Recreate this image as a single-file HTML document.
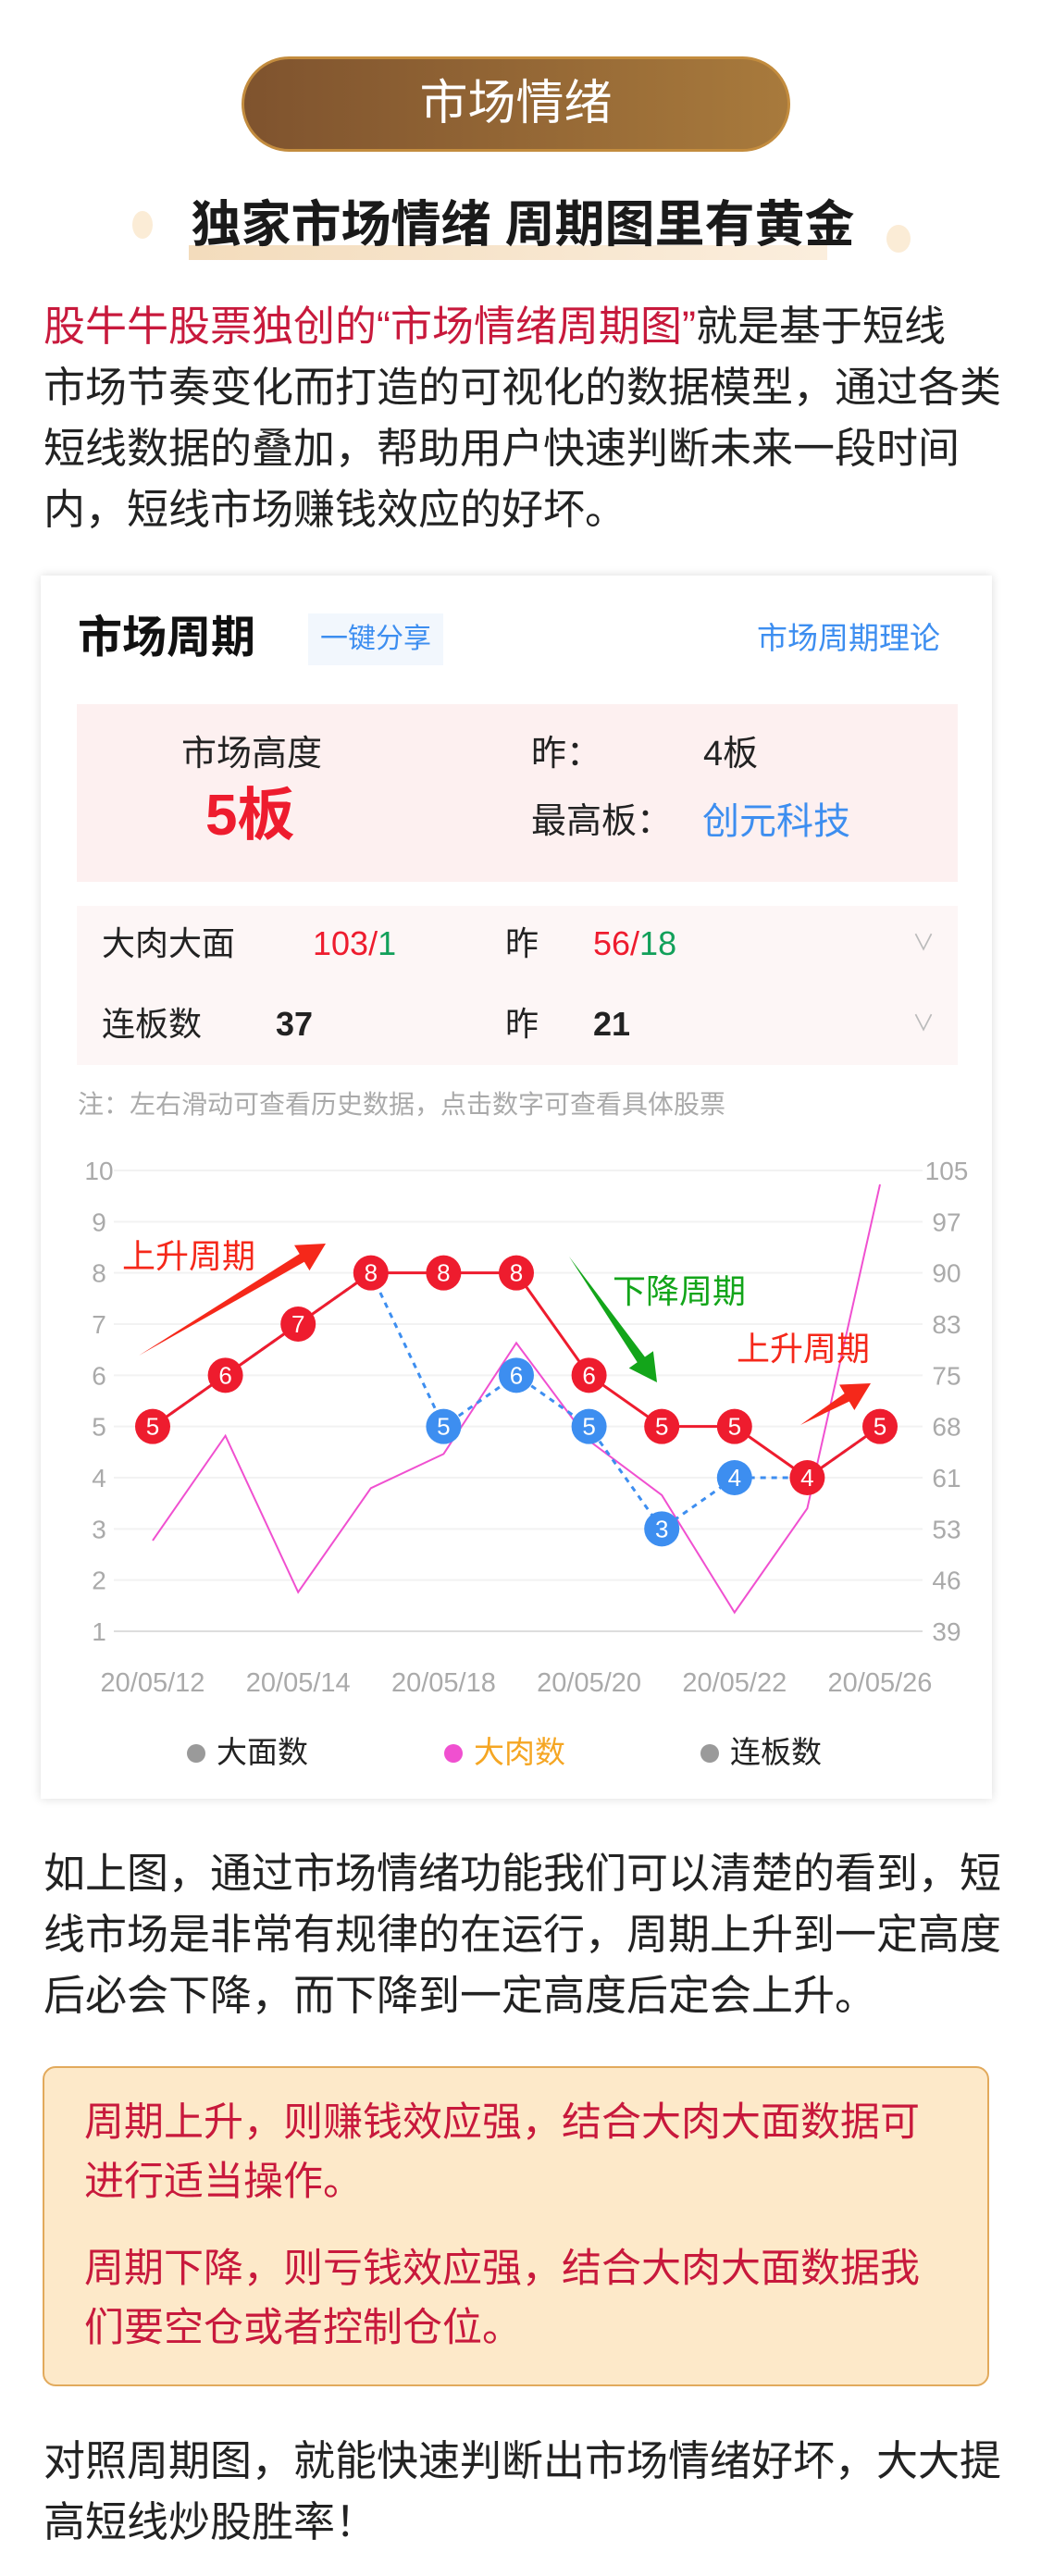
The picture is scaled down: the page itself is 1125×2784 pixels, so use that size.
<!DOCTYPE html>
<html><head><meta charset="utf-8">
<style>
*{margin:0;padding:0;box-sizing:border-box}
body{width:1125px;height:2784px;background:#fff;position:relative;font-family:"Liberation Sans","Noto Sans CJK SC",sans-serif;color:#222;overflow:hidden}
.a{position:absolute;white-space:nowrap}
.p{position:absolute;left:47px;width:1060px;font-size:45px;line-height:66px;color:#222;white-space:nowrap}
</style></head><body>
<div class="a" style="left:261px;top:61px;width:593px;height:103px;border-radius:52px;background:linear-gradient(90deg,#7f532e,#a87a3c);border:3px solid #c38c3e;color:#fff;font-size:52px;text-align:center;line-height:97px">市场情绪</div>
<div class="a" style="left:204px;top:265px;width:690px;height:16px;background:linear-gradient(90deg,#f3dcbc,#fbeedd)"></div>
<div class="a" style="left:143px;top:228px;width:22px;height:30px;border-radius:50%;background:#fbecd6"></div>
<div class="a" style="left:958px;top:243px;width:26px;height:30px;border-radius:50%;background:#fbecd6"></div>
<div class="a" style="left:195px;top:210px;width:740px;text-align:center;font-size:54px;font-weight:bold;color:#1a1a1a;line-height:66px">独家市场情绪 周期图里有黄金</div>
<div class="p" style="top:320px"><span style="color:#c8193c">股牛牛股票独创的“市场情绪周期图”</span>就是基于短线<br>市场节奏变化而打造的可视化的数据模型，通过各类<br>短线数据的叠加，帮助用户快速判断未来一段时间<br>内，短线市场赚钱效应的好坏。</div>

<div class="a" style="left:44px;top:622px;width:1028px;height:1322px;background:#fff;box-shadow:0 0 10px rgba(0,0,0,0.14)"></div>
<div class="a" style="left:84px;top:660px;font-size:48px;font-weight:bold;color:#111;line-height:60px">市场周期</div>
<div class="a" style="left:333px;top:663px;width:146px;height:56px;background:#f2f7fd;color:#3d8ef0;font-size:30px;line-height:56px;text-align:center">一键分享</div>
<div class="a" style="left:818px;top:668px;font-size:33px;color:#3d8ef0;line-height:44px">市场周期理论</div>

<div class="a" style="left:83px;top:761px;width:952px;height:192px;background:#fdf0f0"></div>
<div class="a" style="left:196px;top:792px;font-size:38px;line-height:46px">市场高度</div>
<div class="a" style="left:222px;top:846px;font-size:62px;font-weight:bold;color:#ee1c2e;line-height:72px">5板</div>
<div class="a" style="left:574px;top:792px;font-size:38px;line-height:46px">昨：</div>
<div class="a" style="left:760px;top:792px;font-size:38px;line-height:46px">4板</div>
<div class="a" style="left:574px;top:865px;font-size:38px;line-height:46px">最高板：</div>
<div class="a" style="left:759px;top:865px;font-size:40px;color:#3d8ef0;line-height:46px">创元科技</div>

<div class="a" style="left:83px;top:979px;width:952px;height:172px;background:#fdf6f6"></div>
<div class="a" style="left:110px;top:997px;font-size:36px;line-height:46px">大肉大面</div>
<div class="a" style="left:338px;top:997px;font-size:36px;line-height:46px;color:#ee1c2e">103/<span style="color:#12a05a">1</span></div>
<div class="a" style="left:546px;top:997px;font-size:36px;line-height:46px">昨</div>
<div class="a" style="left:641px;top:997px;font-size:36px;line-height:46px;color:#ee1c2e">56/<span style="color:#12a05a">18</span></div>
<div class="a" style="left:986px;top:1003px;font-size:24px;color:#bbb;line-height:34px">∨</div>
<div class="a" style="left:110px;top:1084px;font-size:36px;line-height:46px">连板数</div>
<div class="a" style="left:298px;top:1084px;font-size:36px;line-height:46px;font-weight:bold">37</div>
<div class="a" style="left:546px;top:1084px;font-size:36px;line-height:46px">昨</div>
<div class="a" style="left:641px;top:1084px;font-size:36px;line-height:46px;font-weight:bold">21</div>
<div class="a" style="left:986px;top:1090px;font-size:24px;color:#bbb;line-height:34px">∨</div>
<div class="a" style="left:84px;top:1176px;font-size:28px;color:#aaa;line-height:36px">注：左右滑动可查看历史数据，点击数字可查看具体股票</div>

<svg id="chart" class="a" style="left:0;top:1200px" width="1125" height="660"></svg>

<div class="a" style="left:202px;top:1874px;font-size:33px;line-height:40px"><span style="display:inline-block;width:20px;height:20px;border-radius:50%;background:#9a9a9a;margin-right:12px"></span>大面数</div>
<div class="a" style="left:480px;top:1874px;font-size:33px;line-height:40px;color:#f5a623"><span style="display:inline-block;width:20px;height:20px;border-radius:50%;background:#f050d0;margin-right:12px"></span>大肉数</div>
<div class="a" style="left:757px;top:1874px;font-size:33px;line-height:40px"><span style="display:inline-block;width:20px;height:20px;border-radius:50%;background:#9a9a9a;margin-right:12px"></span>连板数</div>

<div class="p" style="top:1992px">如上图，通过市场情绪功能我们可以清楚的看到，短<br>线市场是非常有规律的在运行，周期上升到一定高度<br>后必会下降，而下降到一定高度后定会上升。</div>

<div class="a" style="left:46px;top:2233px;width:1023px;height:346px;background:#fde9c9;border:2px solid #e2aa5c;border-radius:14px"></div>
<div class="a" style="left:91px;top:2262px;font-size:43px;line-height:64px;color:#c8193c">周期上升，则赚钱效应强，结合大肉大面数据可<br>进行适当操作。</div>
<div class="a" style="left:91px;top:2420px;font-size:43px;line-height:64px;color:#c8193c">周期下降，则亏钱效应强，结合大肉大面数据我<br>们要空仓或者控制仓位。</div>

<div class="p" style="top:2627px">对照周期图，就能快速判断出市场情绪好坏，大大提<br>高短线炒股胜率！</div>

<script>
const dates=["20/05/12","","20/05/14","","20/05/18","","20/05/20","","20/05/22","","20/05/26"];
const streakHeight=[5,6,7,8,8,8,6,5,5,4,5];
const secondHeight=[5,6,7,8,5,6,5,3,4,4,5];
const meatCount=[52,67,44.6,59.5,64.4,80.3,66.3,58.5,41.7,56.6,103];
const leftTicks=[1,2,3,4,5,6,7,8,9,10];
const rightTicks=[39,46,53,61,68,75,83,90,97,105];
const svg=document.getElementById('chart');
const NS='http://www.w3.org/2000/svg';
const xL=165,xStep=78.6,yTop=65,yBot=563;
const X=i=>xL+i*xStep;
const YL=v=>yBot-(v-1)/9*(yBot-yTop);
const YR=v=>yBot-(v-39)/66*(yBot-yTop);
function mk(t,a){const e=document.createElementNS(NS,t);for(const k in a)e.setAttribute(k,a[k]);svg.appendChild(e);return e;}
leftTicks.forEach((v,i)=>{
 const g=mk('line',{x1:123,x2:997,y1:YL(v),y2:YL(v),stroke:i==0?'#ddd':'#f2f2f2','stroke-width':2});
 
 
 const t=mk('text',{x:107,y:YL(v)+10,'text-anchor':'middle','font-size':28,fill:'#aaa'});t.textContent=v;
 
 
});
rightTicks.forEach((v,i)=>{
 const t=mk('text',{x:1023,y:YL(leftTicks[i])+10,'text-anchor':'middle','font-size':28,fill:'#aaa'});t.textContent=v;
 
 
});
dates.forEach((d,i)=>{if(!d)return;
 const t=mk('text',{x:X(i),y:628,'text-anchor':'middle','font-size':29,fill:'#aaa'});t.textContent=d;
 
 
});
const pk=mk('polyline',{points:meatCount.map((v,i)=>X(i)+','+YR(v)).join(' '),fill:'none',stroke:'#f050d0','stroke-width':2});


const bl=mk('polyline',{points:secondHeight.map((v,i)=>X(i)+','+YL(v)).join(' '),fill:'none',stroke:'#3d8ef0','stroke-width':3,'stroke-dasharray':'6 6'});


const rl=mk('polyline',{points:streakHeight.map((v,i)=>X(i)+','+YL(v)).join(' '),fill:'none',stroke:'#ee1c2e','stroke-width':3});


function dot(i,v,c,n){
 const e=mk('circle',{cx:X(i),cy:YL(v),r:19,fill:c});
 
 
 const t=mk('text',{x:X(i),y:YL(v)+9,'text-anchor':'middle','font-size':26,fill:'#fff'});t.textContent=v;
 
 
}
secondHeight.forEach((v,i)=>{if(v!==streakHeight[i])dot(i,v,'#3d8ef0','second-height-point');});
streakHeight.forEach((v,i)=>dot(i,v,'#ee1c2e','streak-height-point'));
function arrow(x1,y1,x2,y2,c,n){
 const dx=x2-x1,dy=y2-y1,L=Math.hypot(dx,dy),ux=dx/L,uy=dy/L,px=-uy,py=ux;
 const hb=30,hw=16,bw=5;
 const bx=x2-ux*hb,by=y2-uy*hb;
 const pts=[[x1,y1],[bx+px*bw,by+py*bw],[bx+px*hw,by+py*hw],[x2,y2],[bx-px*hw,by-py*hw],[bx-px*bw,by-py*bw]];
 const e=mk('polygon',{points:pts.map(p=>p.join(',')).join(' '),fill:c});
 
 
}
arrow(150,265,352,144,'#f5281a','rise-arrow-1');
arrow(615,158,710,294,'#13a51a','fall-arrow');
arrow(865,340,941,295,'#f5281a','rise-arrow-2');
function lab(x,y,s,c,n){const t=mk('text',{x:x,y:y,'font-size':36,fill:c});t.textContent=s;
 
 }
lab(132,170,'上升周期','#f5281a','rise-label-1');
lab(662,208,'下降周期','#13a51a','fall-label');
lab(796,270,'上升周期','#f5281a','rise-label-2');
</script>
</body></html>
